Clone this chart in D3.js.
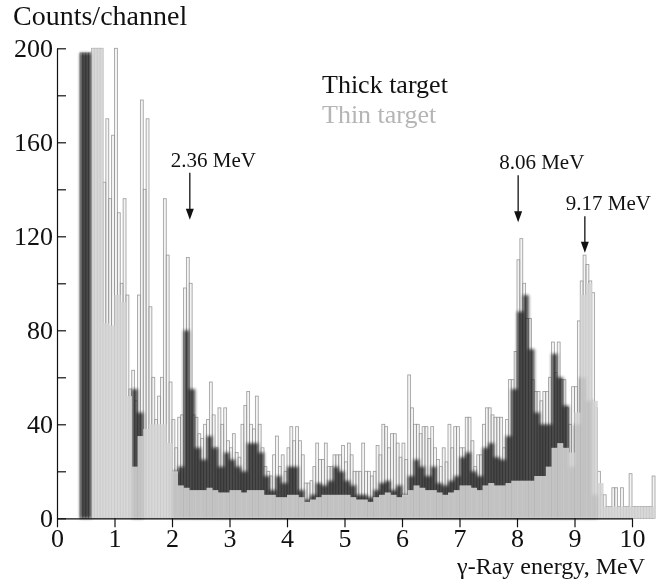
<!DOCTYPE html>
<html>
<head>
<meta charset="utf-8">
<script src="https://cdn.jsdelivr.net/npm/d3@7"></script>
<style>
  body { margin: 0; background: #fff; }
  svg { display: block; }
  text { font-family: "Liberation Serif", "DejaVu Serif", serif; }
</style>
</head>
<body>
<div id="chart"></div>
<script>
// gamma spectrum, counts per channel
// thick target spikes (fine channels, 0.05 MeV)
const spikeStart = 0.4, spikeStep = 0.05;
const thickSpikes = [
  198, 198, 198, 198, 200, 200, 200, 200, 143, 170, 136, 163, 200, 130, 100, 136, 95, 55, 63, 50,
  95, 178, 140, 170, 90, 60, 42, 52, 60, 136, 112, 58, 42, 30, 43, 44, 98, 111, 100, 44,
  43, 36, 34, 40, 42, 58, 44, 30, 47, 40, 47, 33, 30, 36, 28, 26, 40, 48, 54, 40,
  38, 52, 40, 30, 22, 20, 18, 27, 35, 22, 27, 20, 30, 39, 33, 39, 33, 27, 15, 15,
  16, 22, 32, 25, 25, 32, 22, 22, 27, 27, 27, 31, 24, 32, 27, 20, 20, 20, 32, 20,
  20, 18, 20, 31, 27, 40, 39, 30, 36, 36, 32, 26, 32, 25, 61, 47, 40, 40, 36, 39,
  39, 34, 39, 30, 25, 22, 30, 24, 40, 30, 39, 39, 30, 30, 43, 43, 33, 22, 27, 27,
  40, 47, 47, 44, 43, 43, 43, 30, 42, 59, 59, 71, 110, 119, 100, 85, 85, 59, 54, 54,
  50, 54, 54, 60, 75, 62, 75, 59, 59, 47, 40, 56, 56, 84, 101, 112, 108, 101, 96, 47,
  20, 10, 10, 5, 5, 13, 13, 5, 13, 5, 5, 19, 5, 5, 5, 5, 5, 5, 5, 18
];

// thick target dense part (0.1 MeV)
const coreStart = 0.4, coreStep = 0.1;
const thickCore = [
  198, 198, 0, 0, 0, 0, 0, 0, 0, 55, 45, 0, 0, 0, 0, 0, 20, 22, 80, 55,
  30, 25, 35, 30, 22, 28, 25, 22, 20, 32, 32, 28, 18, 12, 18, 15, 22, 22, 12, 8,
  10, 15, 14, 16, 22, 20, 16, 14, 10, 10, 9, 12, 15, 16, 12, 14, 10, 18, 25, 22,
  18, 22, 15, 14, 16, 18, 26, 28, 20, 18, 30, 32, 26, 25, 35, 55, 88, 95, 72, 45,
  40, 40, 70, 60, 48, 22, 40, 60, 50, 10, 0, 0, 0, 0, 0, 0, 0, 0, 0, 0
];

// thin target (0.1 MeV)
const thinStart = 0.4, thinStep = 0.1;
const thinCounts = [
  0, 0, 200, 200, 83, 82, 95, 92, 52, 22, 35, 38, 40, 40, 40, 32, 20, 14, 13, 12,
  12, 12, 13, 12, 11, 11, 12, 12, 11, 12, 12, 12, 10, 10, 9, 9, 10, 10, 9, 7,
  8, 9, 10, 10, 10, 10, 10, 9, 8, 8, 7, 9, 10, 11, 10, 9, 10, 12, 14, 13,
  12, 12, 11, 10, 11, 12, 14, 14, 13, 12, 14, 15, 14, 14, 15, 16, 16, 16, 16, 18,
  18, 22, 30, 32, 30, 28, 45, 95, 100, 50, 15, 5, 5, 5, 5, 5, 5, 5, 5, 5
];

const xTicks = d3.range(0, 11);
const yTicks = d3.range(0, 201, 20);

const peakLabels = ['2.36 MeV', '8.06 MeV', '9.17 MeV'];
const peakEnergy = [2.31, 8.02, 9.18];
const peakTip = [127, 126, 113];
const peakTop = [147, 146, 128.5];

const legendLabels = ['Thick target', 'Thin target'];
const legendColors = ['#111111', '#b5b5b5'];

const width = 656, height = 586;

const svg = d3.select('#chart').append('svg')
  .attr('width', width)
  .attr('height', height);

const x = d3.scaleLinear().domain([0, 10]).range([57, 632]);
const y = d3.scaleLinear().domain([0, 200]).range([518.3, 48.3]);

const defs = svg.append('defs');
defs.append('filter').attr('id', 'smudge')
  .attr('x', '-5%').attr('y', '-5%').attr('width', '110%').attr('height', '110%')
  .append('feGaussianBlur').attr('stdDeviation', 1.4);

function bins(values, start, step) {
  return values.map((v, i) => ({ e0: start + i * step, e1: start + (i + 1) * step, v: v }));
}

// spikes of thick target: outlined channels
svg.append('g')
  .selectAll('rect')
  .data(bins(thickSpikes, spikeStart, spikeStep))
  .enter()
  .append('rect')
  .attr('x', d => x(d.e0))
  .attr('y', d => y(d.v))
  .attr('width', d => x(d.e1) - x(d.e0))
  .attr('height', d => y(0) - y(d.v))
  .attr('fill', '#ececec')
  .attr('fill-opacity', 0.6)
  .attr('stroke', '#8a8a8a')
  .attr('stroke-width', 0.8)
  .attr('stroke-opacity', 0.85);

// dense dark part of thick target
svg.append('g')
  .attr('filter', 'url(#smudge)')
  .selectAll('rect')
  .data(bins(thickCore, coreStart, coreStep).filter(d => d.v > 0))
  .enter()
  .append('rect')
  .attr('x', d => x(d.e0))
  .attr('y', d => y(d.v))
  .attr('width', d => x(d.e1) - x(d.e0) + 0.3)
  .attr('height', d => y(0) - y(d.v))
  .attr('fill', '#1c1c1c')
  .attr('opacity', 0.78);

// thin target
svg.append('g')
  .selectAll('rect')
  .data(bins(thinCounts, thinStart, thinStep).filter(d => d.v > 0))
  .enter()
  .append('rect')
  .attr('x', d => x(d.e0))
  .attr('y', d => y(d.v))
  .attr('width', d => x(d.e1) - x(d.e0) + 0.3)
  .attr('height', d => y(0) - y(d.v))
  .attr('fill', '#d4d4d4')
  .attr('opacity', 0.88);

// axes
const xAxis = svg.append('g')
  .attr('transform', `translate(0,${y(0)})`)
  .call(d3.axisBottom(x).tickValues(xTicks).tickSize(9).tickSizeOuter(0).tickPadding(1));

const yAxis = svg.append('g')
  .attr('transform', `translate(${x(0)},0)`)
  .call(d3.axisLeft(y).tickValues(yTicks).tickSize(-9).tickSizeOuter(0).tickPadding(4)
    .tickFormat(d => d % 40 === 0 ? d : ''));

[xAxis, yAxis].forEach(g => {
  g.selectAll('text').attr('font-size', 26).attr('fill', '#111')
    .style('font-family', '"Liberation Serif", serif');
  g.selectAll('line').attr('stroke', '#111').attr('stroke-width', 1.2);
  g.select('.domain').attr('stroke', '#111').attr('stroke-width', 1.2);
});

// axis titles
svg.append('text')
  .attr('x', 13).attr('y', 25)
  .attr('font-size', 28)
  .attr('fill', '#111')
  .text('Counts/channel');

svg.append('text')
  .attr('x', 645).attr('y', 574)
  .attr('text-anchor', 'end')
  .attr('font-size', 24)
  .attr('fill', '#111')
  .text('γ-Ray energy, MeV');

// legend
svg.append('g')
  .selectAll('text')
  .data(legendLabels)
  .enter()
  .append('text')
  .attr('x', 322)
  .attr('y', (d, i) => 93 + i * 30)
  .attr('font-size', 26)
  .attr('fill', (d, i) => legendColors[i])
  .text(d => d);

// peak arrows
const marks = svg.append('g');
peakLabels.forEach((label, i) => {
  const px = x(peakEnergy[i]);
  const yTop = y(peakTop[i]);
  const yTip = y(peakTip[i]);
  marks.append('line')
    .attr('x1', px).attr('x2', px)
    .attr('y1', yTop).attr('y2', yTip - 8)
    .attr('stroke', '#111').attr('stroke-width', 1.3);
  marks.append('path')
    .attr('d', `M${px - 4},${yTip - 11}L${px + 4},${yTip - 11}L${px},${yTip}Z`)
    .attr('fill', '#111');
  marks.append('text')
    .attr('x', px - 19)
    .attr('y', yTop - 6)
    .attr('font-size', 21)
    .attr('fill', '#111')
    .text(label);
});
</script>
</body>
</html>
